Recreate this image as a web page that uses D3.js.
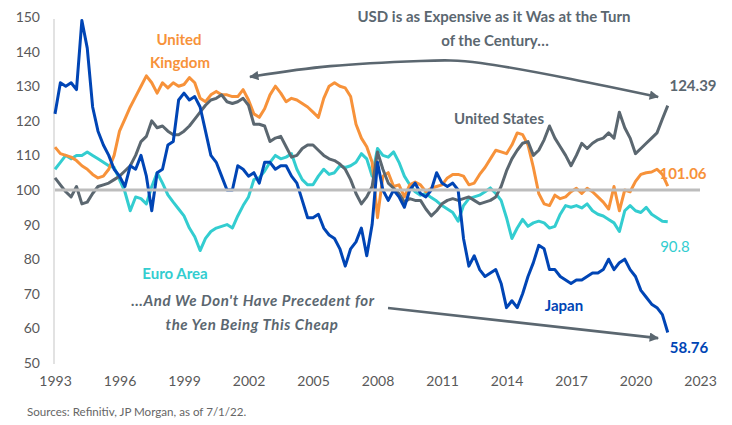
<!DOCTYPE html>
<html>
<head>
<meta charset="utf-8">
<script src="https://cdn.jsdelivr.net/npm/d3@7"></script>
<style>
  body { margin: 0; background: #fff; }
  #chart text { font-family: Lato, "Open Sans", sans-serif; }
</style>
</head>
<body>
<div id="chart"></div>
<script>
// quarterly readings, first point 1993.0, one value every quarter
const startYear = 1993
const stepYears = 0.25

const japan = [122,131,130,131,129,149,141,124,117,113,110,106,104,101,107,106,
  110,104,94,105,106,113,114,126,128,126,127,124,117,110,108,104,
  100,100,107,106,104,105,102,108,108,106,107,107,104,102,97,92,
  92,93,89,87,86,83,78,83,85,89,81,90,108,100,97,100,
  98,95,100,102,99,98,100,105,102,101,102,100,86,78,81,77,
  75,76,77,73,66,68,66,70,75,79,84,83,77,77,75,74,
  73,74,74,75,76,76,77,80,77,79,80,77,75,71,69,67,
  66,64,58.8]

const unitedStates = [103.5,101.5,99.5,98,101,96,96.5,99,101,101.5,102,103,104,105.5,107,110,
  114,115.5,120,118,118.5,117,116,116,117,118.5,120.5,122.5,124.5,126,126.5,127.5,
  125.5,125,125.5,126.5,124.5,119,119,118.5,114,115,115.5,112.5,109.5,110,112,113,
  113,111.5,110,109,108.5,107.5,106,103,99,96,98,101,111,106,102,100.5,
  99,96.5,97.5,97,97,94.5,92.5,94,96,97,97.5,97,97.5,98,97,96,
  96.5,97,98,101,105.5,109,111.5,113.5,114,110,111.5,114.5,118.5,115,112.5,110,
  107,110,113.5,112,113.5,114.5,115,116.5,115,122.5,118,115,110.5,112,113.5,115,
  116.5,120.5,124.4]

const unitedKingdom = [112.4,110.5,110,109.5,108.5,107,106,104.5,103.5,104,106,110,117,120.5,124,127,
  130,133,131,128,131,129.5,131,130,130.5,132.5,131,126.5,125.5,127.5,128.5,127.5,
  127.5,127,127,129,126,122,121,123.5,127.5,130,128,125.5,126.5,126,125,124,
  122.5,121,126.5,130,131,130,129.5,127,119,115,112.5,108,92,104,105,101,
  101.5,98,101.5,102.3,101.5,99.5,100.5,101,101.5,103.5,104.5,104.5,104,101.5,102,104.5,
  106.5,109,111.5,111,110.5,113,116.5,116,113,106.5,99,96,95.5,98.5,97.5,98,
  99.5,100.5,99,100.5,99.5,98,96.5,94.5,101,94,100,99.5,102.5,104.5,105,105.2,
  106,104.5,101.1]

const euroArea = [106,108,110,109,110,110,111,110,109,108,107,106.5,103,99.5,94,98,
  97.5,96,101,105,102,98.6,96.5,94.5,92.5,89,86.5,82.5,86,88,89,89.5,
  90,89,92.5,95.5,98,103,103.5,105.5,108,110,109,109.5,110.5,106,103,101.5,
  101.5,104,106,104.5,105,107,106.5,107,108,110.5,109,104,112,110,109.5,111,
  108,104,101.5,99.5,98.5,99,97.8,96.8,95.5,94.5,93.5,91,95.5,97.5,98,98.5,
  99.5,100.6,99,97,92,86,89,91.5,89.5,90.5,91,90.5,89,89.5,93,95.5,
  95,95.5,94.8,96,94,93,92.5,91.5,90.5,88,94,95.5,94,93.5,95,93,
  92,91,90.8]

const xTicks = [1993, 1996, 1999, 2002, 2005, 2008, 2011, 2014, 2017, 2020, 2023]
const yTicks = [50, 60, 70, 80, 90, 100, 110, 120, 130, 140, 150]

const colors = {
  us: '#5b6770',
  uk: '#f7923a',
  euro: '#33cdd0',
  japan: '#0045b5'
}

const width = 732
const height = 425

const svg = d3.select('#chart').append('svg')
  .attr('width', width).attr('height', height)

const x = d3.scaleLinear().domain([1993, 2023]).range([55, 700])
const y = d3.scaleLinear().domain([50, 150]).range([363, 17])

// arrow heads
const defs = svg.append('defs')
defs.append('marker')
  .attr('id', 'head')
  .attr('viewBox', '0 0 10 10')
  .attr('refX', 9).attr('refY', 5)
  .attr('markerWidth', 4.6).attr('markerHeight', 3.6)
  .attr('markerUnits', 'strokeWidth')
  .attr('orient', 'auto-start-reverse')
  .append('path').attr('d', 'M0,0 L10,5 L0,10 Z').attr('fill', colors.us)

// y axis
const yAxis = svg.append('g')
  .attr('transform', 'translate(54,0)')
  .call(d3.axisLeft(y).tickValues(yTicks).tickSize(0).tickPadding(14))
yAxis.select('.domain').attr('stroke', '#cfcfcf').attr('stroke-width', 1.2)
  .attr('d', `M0,${y(50) + 1}V${y(150) + 2}`)
yAxis.selectAll('text').attr('font-size', 14).attr('fill', '#595959')

// x axis
const xAxis = svg.append('g')
  .attr('transform', `translate(0,${y(50)})`)
  .call(d3.axisBottom(x).tickValues(xTicks).tickFormat(d3.format('d')).tickSize(0).tickPadding(13))
xAxis.select('.domain').remove()
xAxis.selectAll('text').attr('font-size', 14).attr('fill', '#595959')

const line = d3.line()
  .x((d, i) => x(startYear + i * stepYears))
  .y(d => y(d))

const series = [
  { key: 'euro', values: euroArea },
  { key: 'uk', values: unitedKingdom },
  { key: 'us', values: unitedStates },
  { key: 'japan', values: japan }
]

svg.selectAll('path.series')
  .data(series)
  .enter()
  .append('path')
  .attr('class', 'series')
  .attr('d', d => line(d.values))
  .attr('fill', 'none')
  .attr('stroke', d => colors[d.key])
  .attr('stroke-width', 3)
  .attr('stroke-linejoin', 'round')

// parity line at 100
svg.append('line')
  .attr('x1', x(1993)).attr('x2', x(2023))
  .attr('y1', y(100)).attr('y2', y(100))
  .attr('stroke', '#bdbdbd').attr('stroke-width', 3)

// curved arrow across the top
const topArrow = [[2002.07, 132.7], [2005.8, 135.8], [2010, 137.3], [2012.8, 136.7], [2017, 132.1], [2021.05, 126.9]]
svg.append('path')
  .attr('d', d3.line().x(d => x(d[0])).y(d => y(d[1])).curve(d3.curveNatural)(topArrow))
  .attr('fill', 'none').attr('stroke', colors.us).attr('stroke-width', 2.6)
  .attr('marker-start', 'url(#head)').attr('marker-end', 'url(#head)')

// straight arrow at the bottom
svg.append('line')
  .attr('x1', x(2008.49)).attr('y1', y(65.9))
  .attr('x2', x(2021.05)).attr('y2', y(57.2))
  .attr('stroke', colors.us).attr('stroke-width', 2.6)
  .attr('marker-end', 'url(#head)')

const label = (txt, cx, cy, color, opts = {}) => svg.append('text')
  .attr('x', cx).attr('y', cy)
  .attr('text-anchor', opts.anchor || 'middle')
  .attr('dominant-baseline', 'central')
  .attr('font-size', opts.size || 15)
  .attr('font-weight', opts.weight || 700)
  .attr('font-style', opts.style || 'normal')
  .attr('letter-spacing', opts.spacing || 0)
  .attr('fill', color)
  .text(txt)

label('USD is as Expensive as it Was at the Turn', 494, 16, colors.us)
label('of the Century…', 495, 40, colors.us)
label('United', 179, 39, colors.uk)
label('Kingdom', 180, 62, colors.uk)
label('United States', 499, 118, colors.us)
label('Euro Area', 175, 273, colors.euro)
label('Japan', 564, 305, colors.japan)
label('…And We Don\'t Have Precedent for', 253, 300, colors.us, { style: 'italic', spacing: 0.6 })
label('the Yen Being This Cheap', 252, 324, colors.us, { style: 'italic', spacing: 0.6 })
label('124.39', 693, 85, colors.us)
label('101.06', 683, 173, colors.uk)
label('90.8', 675, 246, colors.euro, { weight: 400 })
label('58.76', 689, 347, colors.japan)

label('Sources: Refinitiv, JP Morgan, as of 7/1/22.', 27, 411, '#666', { anchor: 'start', size: 11.6, weight: 400 })
</script>
</body>
</html>
